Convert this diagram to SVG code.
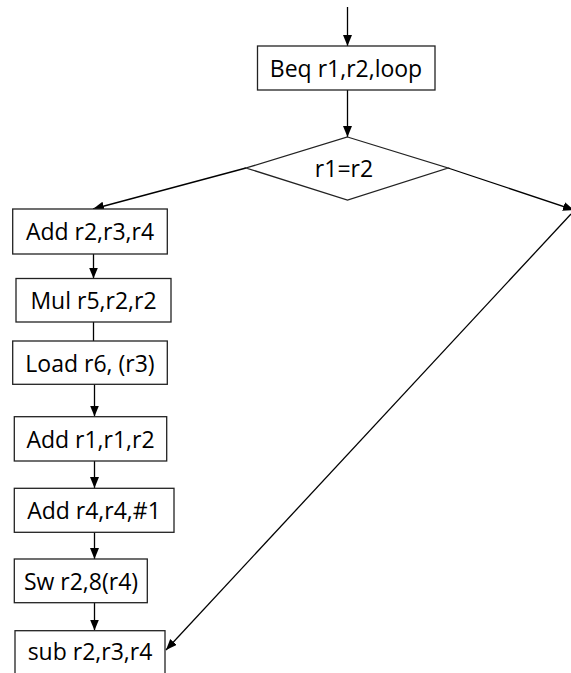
<svg xmlns="http://www.w3.org/2000/svg" width="571" height="673" viewBox="0 0 571 673">
<defs>
<style>
.box{fill:#fff;stroke:#222;stroke-width:1.3}
.lbl{font-family:"Open Sans","Liberation Sans",sans-serif;font-size:23px;fill:#000;text-anchor:middle}
.conn line{stroke:#000;stroke-width:1.3;fill:none}
.arr{marker-end:url(#ah)}
</style>
<marker id="ah" markerUnits="userSpaceOnUse" markerWidth="12" markerHeight="10" refX="11" refY="4.5" orient="auto" viewBox="0 0 12 10">
<path d="M0,0 L11,4.5 L0,9 z" fill="#000"/>
</marker>
</defs>
<rect width="571" height="673" fill="#fff"/>
<g id="connectors" class="conn">
<line class="arr" x1="347.5" y1="7" x2="347.5" y2="46"/>
<line class="arr" x1="347.5" y1="90" x2="347.5" y2="137"/>
<line class="arr" x1="246" y1="168" x2="93" y2="209"/>
<line class="arr" x1="448" y1="168" x2="574" y2="210"/>
<line class="arr" x1="571" y1="214" x2="166" y2="650"/>
<line class="arr" x1="93.5" y1="254" x2="93.5" y2="278.5"/>
<line x1="93.5" y1="322" x2="93.5" y2="341"/>
<line class="arr" x1="94.5" y1="384" x2="94.5" y2="416.5"/>
<line class="arr" x1="94.5" y1="461" x2="94.5" y2="488"/>
<line class="arr" x1="94.5" y1="532" x2="94.5" y2="559"/>
<line class="arr" x1="94.5" y1="603" x2="94.5" y2="630.5"/>
</g>
<g id="beq"><rect class="box" x="257.5" y="46" width="177.5" height="44"/><text class="lbl" x="346" y="77">Beq r1,r2,loop</text></g>
<g id="cond"><polygon class="box" points="347.5,137 448,168 347.5,200 246,168"/><text class="lbl" x="344" y="177">r1=r2</text></g>
<g id="add1"><rect class="box" x="12.7" y="209" width="154.6" height="45"/><text class="lbl" x="90" y="240">Add r2,r3,r4</text></g>
<g id="mul"><rect class="box" x="16" y="278.5" width="155" height="43.5"/><text class="lbl" x="93.5" y="309">Mul r5,r2,r2</text></g>
<g id="load"><rect class="box" x="12.7" y="341" width="154.6" height="43.3"/><text class="lbl" x="90" y="372">Load r6, (r3)</text></g>
<g id="add2"><rect class="box" x="14.3" y="416.7" width="152.4" height="44.3"/><text class="lbl" x="90.5" y="448">Add r1,r1,r2</text></g>
<g id="add3"><rect class="box" x="14.3" y="488.3" width="159.7" height="44"/><text class="lbl" x="94" y="519">Add r4,r4,#1</text></g>
<g id="sw"><rect class="box" x="14.3" y="559" width="133" height="43.7"/><text class="lbl" x="81" y="590">Sw r2,8(r4)</text></g>
<g id="sub"><rect class="box" x="15" y="630.7" width="150" height="50"/><text class="lbl" x="90" y="660">sub r2,r3,r4</text></g>
</svg>
